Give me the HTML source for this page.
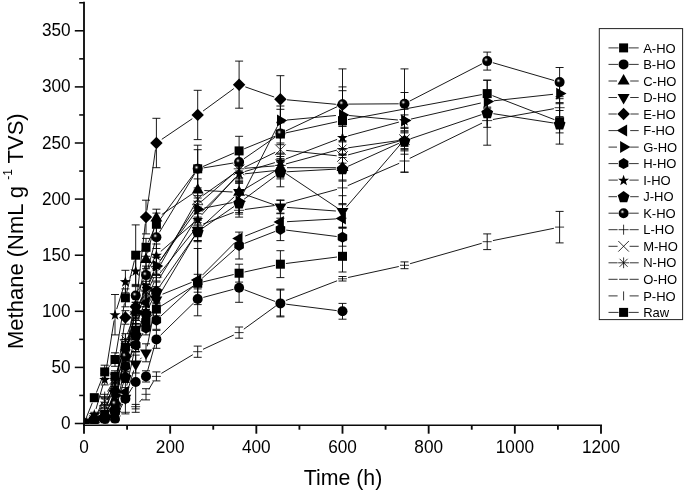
<!DOCTYPE html>
<html><head><meta charset="utf-8"><title>Methane</title>
<style>
html,body{margin:0;padding:0;background:#fff;}
body{width:685px;height:491px;overflow:hidden;}
svg{display:block;font-family:"Liberation Sans",Arial,sans-serif;}
.dl path{stroke:#000;stroke-width:0.9;fill:none;}
.eb path{stroke:#000;stroke-width:0.9;fill:none;}
.sy{fill:#000;stroke:none;}
.hs{stroke:#000;stroke-width:0.8;fill:none;}
.axv{stroke:#0a0a0a;stroke-width:1.85;fill:none;}
.axh{stroke:#0a0a0a;stroke-width:1.55;fill:none;}
.ll{stroke:#000;stroke-width:0.8;fill:none;}
.tl{font-size:17.2px;fill:#000;}
.at{font-size:21.3px;fill:#000;}
.lt{font-size:13px;fill:#000;}
</style></head><body>
<svg width="685" height="491" viewBox="0 0 685 491">
<defs><radialGradient id="sph" cx="0.38" cy="0.36" r="0.5"><stop offset="0" stop-color="#f4f4f4"/><stop offset="0.14" stop-color="#a0a0a0"/><stop offset="0.34" stop-color="#1c1c1c"/><stop offset="0.5" stop-color="#000"/><stop offset="1" stop-color="#000"/></radialGradient></defs>
<rect width="685" height="491" fill="#fff"/>
<clipPath id="cp"><rect x="84" y="0" width="600" height="423.6"/></clipPath>
<g clip-path="url(#cp)">
<g class="dl">
<path d="M86.0 418.4L92.3 402.8"/>
<path d="M96.4 392.6L102.6 377.0"/>
<path d="M108.2 367.7L111.5 363.8"/>
<path d="M115.9 354.1L124.4 303.3"/>
<path d="M126.7 292.5L134.4 260.5"/>
<path d="M140.1 251.9L141.7 250.7"/>
<path d="M148.3 242.3L154.1 229.4"/>
<path d="M159.7 219.9L194.4 173.2"/>
<path d="M202.8 166.6L234.0 153.0"/>
<path d="M244.2 148.8L275.4 136.1"/>
<path d="M285.8 132.9L337.1 121.7"/>
<path d="M347.9 119.6L481.8 94.6"/>
<path d="M492.4 95.6L554.5 119.7"/>
<path d="M117.7 413.8L122.7 404.0"/>
<path d="M128.4 393.9L132.7 386.9"/>
<path d="M147.6 370.8L154.8 344.9"/>
<path d="M160.5 335.3L193.6 303.0"/>
<path d="M203.3 297.4L233.5 289.3"/>
<path d="M244.5 289.8L275.0 301.4"/>
<path d="M286.2 304.2L336.7 310.6"/>
<path d="M108.3 411.3L111.4 406.6"/>
<path d="M116.4 394.6L123.9 360.4"/>
<path d="M126.9 347.5L134.1 317.7"/>
<path d="M137.0 304.8L144.7 266.2"/>
<path d="M147.6 253.3L154.8 224.6"/>
<path d="M161.8 214.5L192.3 193.8"/>
<path d="M204.3 190.5L232.5 192.0"/>
<path d="M244.8 189.0L274.8 171.1"/>
<path d="M287.0 167.7L335.9 167.7"/>
<path d="M118.5 408.9L121.8 403.7"/>
<path d="M127.3 391.8L133.8 370.4"/>
<path d="M140.2 359.2L141.6 357.7"/>
<path d="M147.3 346.3L155.1 306.6"/>
<path d="M159.7 294.4L194.4 236.2"/>
<path d="M202.6 226.0L234.2 196.8"/>
<path d="M245.3 194.6L274.2 204.8"/>
<path d="M287.0 207.4L335.9 211.0"/>
<path d="M107.1 410.6L112.6 397.1"/>
<path d="M115.9 384.4L124.4 324.0"/>
<path d="M130.0 312.7L131.1 311.5"/>
<path d="M136.5 300.3L145.3 223.6"/>
<path d="M146.9 210.5L155.5 149.5"/>
<path d="M161.8 139.3L192.3 118.7"/>
<path d="M203.1 111.0L233.8 88.6"/>
<path d="M245.3 86.9L274.2 97.0"/>
<path d="M287.0 99.8L335.9 104.3"/>
<path d="M117.6 410.7L122.8 398.2"/>
<path d="M126.8 385.6L134.3 351.4"/>
<path d="M137.3 338.5L144.5 309.2"/>
<path d="M162.5 294.2L191.6 282.4"/>
<path d="M202.4 275.2L234.4 243.0"/>
<path d="M245.2 236.0L274.3 224.5"/>
<path d="M287.0 221.7L335.9 218.9"/>
<path d="M107.7 409.8L112.0 401.3"/>
<path d="M116.7 389.1L123.7 362.6"/>
<path d="M126.8 349.7L134.2 317.7"/>
<path d="M138.4 305.3L143.4 294.1"/>
<path d="M148.8 282.1L153.6 271.8"/>
<path d="M160.3 260.5L193.8 214.5"/>
<path d="M204.2 208.0L232.6 202.6"/>
<path d="M242.1 195.5L277.4 126.4"/>
<path d="M287.0 120.0L335.9 115.5"/>
<path d="M349.1 115.5L397.9 120.0"/>
<path d="M410.9 119.1L480.8 103.0"/>
<path d="M493.8 100.8L553.0 94.3"/>
<path d="M109.5 415.8L110.2 415.4"/>
<path d="M116.3 406.6L124.1 371.9"/>
<path d="M127.9 361.1L133.2 350.2"/>
<path d="M138.7 340.0L143.0 333.1"/>
<path d="M150.7 324.6L151.8 323.8"/>
<path d="M160.6 316.3L193.5 286.1"/>
<path d="M202.1 278.3L234.7 249.4"/>
<path d="M244.5 243.4L275.0 231.5"/>
<path d="M286.2 230.1L336.7 236.5"/>
<path d="M88.4 419.7L90.0 418.3"/>
<path d="M96.0 409.0L103.0 384.9"/>
<path d="M105.6 373.6L114.1 320.4"/>
<path d="M116.7 309.1L123.6 287.1"/>
<path d="M129.4 277.4L131.7 275.1"/>
<path d="M148.9 268.1L153.5 260.2"/>
<path d="M160.8 251.4L193.4 223.1"/>
<path d="M201.6 215.0L235.2 177.6"/>
<path d="M244.6 171.6L274.9 162.6"/>
<path d="M285.9 158.9L337.1 139.4"/>
<path d="M348.1 135.9L398.9 122.1"/>
<path d="M109.6 414.1L110.1 413.8"/>
<path d="M116.9 404.1L123.5 382.7"/>
<path d="M126.8 370.8L134.2 340.9"/>
<path d="M138.4 329.3L143.3 319.1"/>
<path d="M148.6 307.9L153.8 296.7"/>
<path d="M159.9 286.0L194.2 236.7"/>
<path d="M202.8 228.1L234.0 206.5"/>
<path d="M244.1 199.2L275.5 175.9"/>
<path d="M286.6 171.8L336.3 169.1"/>
<path d="M348.1 166.3L398.9 143.3"/>
<path d="M410.4 138.8L481.4 114.7"/>
<path d="M493.4 113.7L553.5 123.0"/>
<path d="M108.3 412.2L111.4 408.4"/>
<path d="M116.2 398.2L124.1 361.8"/>
<path d="M126.3 350.5L134.7 301.3"/>
<path d="M138.3 290.4L143.4 280.2"/>
<path d="M147.6 269.5L154.8 242.8"/>
<path d="M159.4 232.3L194.7 173.8"/>
<path d="M203.5 167.9L233.4 163.0"/>
<path d="M243.9 158.8L275.7 136.8"/>
<path d="M285.7 131.0L337.2 106.7"/>
<path d="M348.3 104.1L398.7 103.8"/>
<path d="M409.7 101.1L482.1 63.8"/>
<path d="M492.8 62.7L554.0 80.5"/>
<path d="M96.7 414.8L102.3 401.9"/>
<path d="M107.6 391.5L112.1 383.6"/>
<path d="M118.1 373.7L122.3 366.7"/>
<path d="M126.9 356.2L134.1 330.4"/>
<path d="M137.9 319.4L143.8 305.4"/>
<path d="M148.5 294.8L153.9 282.9"/>
<path d="M160.0 273.1L194.1 230.6"/>
<path d="M203.2 224.0L233.7 212.4"/>
<path d="M244.8 209.5L274.7 205.5"/>
<path d="M286.0 203.2L336.9 189.4"/>
<path d="M347.8 185.6L399.2 163.3"/>
<path d="M409.7 158.4L482.0 123.1"/>
<path d="M492.9 119.5L553.9 108.7"/>
<path d="M97.1 415.0L101.9 406.2"/>
<path d="M107.1 395.8L112.6 383.9"/>
<path d="M116.7 373.1L123.7 350.5"/>
<path d="M127.4 339.5L133.7 322.4"/>
<path d="M138.1 311.6L143.6 299.7"/>
<path d="M148.5 289.2L153.9 277.3"/>
<path d="M159.2 267.0L194.9 204.1"/>
<path d="M202.5 195.8L234.3 173.3"/>
<path d="M244.3 167.4L275.2 152.3"/>
<path d="M286.2 150.4L336.7 155.8"/>
<path d="M348.1 154.9L398.9 141.2"/>
<path d="M97.7 415.4L101.3 410.3"/>
<path d="M107.2 400.3L112.5 389.4"/>
<path d="M116.3 378.6L124.1 345.0"/>
<path d="M127.4 333.9L133.7 316.7"/>
<path d="M138.3 306.1L143.4 296.3"/>
<path d="M148.3 285.8L154.1 271.8"/>
<path d="M159.6 261.6L194.5 209.5"/>
<path d="M202.1 200.9L234.7 172.6"/>
<path d="M244.9 168.3L274.7 165.9"/>
<path d="M286.0 163.9L336.9 150.1"/>
<path d="M348.2 147.8L398.8 140.5"/>
<path d="M98.3 417.0L100.7 414.3"/>
<path d="M107.0 404.7L112.7 391.8"/>
<path d="M116.6 380.9L123.8 356.1"/>
<path d="M127.4 345.1L133.7 328.0"/>
<path d="M138.7 317.6L143.0 310.6"/>
<path d="M148.5 300.4L153.9 288.5"/>
<path d="M159.4 278.3L194.7 220.9"/>
<path d="M201.8 211.8L235.0 178.5"/>
<path d="M244.9 173.8L274.7 170.6"/>
<path d="M285.3 173.2L337.7 208.2"/>
<path d="M346.3 207.1L400.7 144.0"/>
<path d="M119.6 416.6L120.7 415.8"/>
<path d="M139.4 402.2L142.3 398.8"/>
<path d="M148.9 389.3L153.5 381.4"/>
<path d="M161.4 373.4L192.8 354.7"/>
<path d="M203.0 349.3L233.8 335.0"/>
<path d="M243.8 329.2L275.8 306.0"/>
<path d="M285.9 300.5L337.1 280.8"/>
<path d="M348.1 277.5L398.8 266.5"/>
<path d="M410.1 263.7L481.7 243.3"/>
<path d="M492.9 240.6L553.9 228.3"/>
<path d="M99.2 417.5L99.8 417.1"/>
<path d="M106.1 409.2L113.6 381.7"/>
<path d="M116.9 371.2L123.5 352.4"/>
<path d="M128.2 342.5L132.8 335.1"/>
<path d="M140.1 327.0L141.7 325.8"/>
<path d="M149.4 318.2L153.0 313.4"/>
<path d="M161.0 306.1L193.1 286.2"/>
<path d="M203.1 281.9L233.7 274.5"/>
<path d="M244.5 272.0L275.1 265.3"/>
<path d="M285.9 263.5L337.0 257.0"/>
</g>
<g class="eb">
<path d="M94.3 394.3V401.1M90.3 394.3H98.3M90.3 401.1H98.3"/>
<path d="M104.7 365.2V378.6M100.7 365.2H108.7M100.7 378.6H108.7"/>
<path d="M115.0 352.8V366.3M111.0 352.8H119.0M111.0 366.3H119.0"/>
<path d="M125.4 288.9V306.8M121.4 288.9H129.4M121.4 306.8H129.4"/>
<path d="M135.7 224.9V285.5M131.7 224.9H139.7M131.7 285.5H139.7"/>
<path d="M146.0 238.4V256.3M142.0 238.4H150.0M142.0 256.3H150.0"/>
<path d="M156.4 213.1V235.6M152.4 213.1H160.4M152.4 235.6H160.4"/>
<path d="M197.7 145.2V192.4M193.7 145.2H201.7M193.7 192.4H201.7"/>
<path d="M239.1 136.3V165.4M235.1 136.3H243.1M235.1 165.4H243.1"/>
<path d="M280.4 106.0V162.1M276.4 106.0H284.4M276.4 162.1H284.4"/>
<path d="M342.5 86.9V154.2M338.5 86.9H346.5M338.5 154.2H346.5"/>
<path d="M487.2 80.2V107.1M483.2 80.2H491.2M483.2 107.1H491.2"/>
<path d="M559.6 110.5V132.9M555.6 110.5H563.6M555.6 132.9H563.6"/>
<path d="M135.7 351.7V412.3M131.7 351.7H139.7M131.7 412.3H139.7"/>
<path d="M146.0 370.8V382.0M142.0 370.8H150.0M142.0 382.0H150.0"/>
<path d="M156.4 330.4V348.3M152.4 330.4H160.4M152.4 348.3H160.4"/>
<path d="M197.7 282.1V315.8M193.7 282.1H201.7M193.7 315.8H201.7"/>
<path d="M239.1 273.2V302.3M235.1 273.2H243.1M235.1 302.3H243.1"/>
<path d="M280.4 290.0V316.9M276.4 290.0H284.4M276.4 316.9H284.4"/>
<path d="M342.5 303.4V319.2M338.5 303.4H346.5M338.5 319.2H346.5"/>
<path d="M104.7 414.5V419.0M100.7 414.5H108.7M100.7 419.0H108.7"/>
<path d="M115.0 396.6V405.5M111.0 396.6H119.0M111.0 405.5H119.0"/>
<path d="M125.4 347.2V360.7M121.4 347.2H129.4M121.4 360.7H129.4"/>
<path d="M135.7 302.3V320.3M131.7 302.3H139.7M131.7 320.3H139.7"/>
<path d="M146.0 250.7V268.7M142.0 250.7H150.0M142.0 268.7H150.0"/>
<path d="M156.4 209.2V227.1M152.4 209.2H160.4M152.4 227.1H160.4"/>
<path d="M197.7 178.9V201.3M193.7 178.9H201.7M193.7 201.3H201.7"/>
<path d="M239.1 181.1V203.6M235.1 181.1H243.1M235.1 203.6H243.1"/>
<path d="M280.4 161.0V174.4M276.4 161.0H284.4M276.4 174.4H284.4"/>
<path d="M342.5 154.2V181.1M338.5 154.2H346.5M338.5 181.1H346.5"/>
<path d="M115.0 411.2V417.9M111.0 411.2H119.0M111.0 417.9H119.0"/>
<path d="M125.4 382.4V413.9M121.4 382.4H129.4M121.4 413.9H129.4"/>
<path d="M135.7 355.1V373.0M131.7 355.1H139.7M131.7 373.0H139.7"/>
<path d="M146.0 343.8V361.8M142.0 343.8H150.0M142.0 361.8H150.0"/>
<path d="M156.4 291.1V309.1M152.4 291.1H160.4M152.4 309.1H160.4"/>
<path d="M197.7 219.3V241.7M193.7 219.3H201.7M193.7 241.7H201.7"/>
<path d="M239.1 181.1V203.6M235.1 181.1H243.1M235.1 203.6H243.1"/>
<path d="M280.4 200.2V213.7M276.4 200.2H284.4M276.4 213.7H284.4"/>
<path d="M342.5 195.7V227.1M338.5 195.7H346.5M338.5 227.1H346.5"/>
<path d="M104.7 414.5V419.0M100.7 414.5H108.7M100.7 419.0H108.7"/>
<path d="M115.0 386.5V395.4M111.0 386.5H119.0M111.0 395.4H119.0"/>
<path d="M125.4 310.7V324.2M121.4 310.7H129.4M121.4 324.2H129.4"/>
<path d="M135.7 297.8V315.8M131.7 297.8H139.7M131.7 315.8H139.7"/>
<path d="M146.0 200.2V233.9M142.0 200.2H150.0M142.0 233.9H150.0"/>
<path d="M156.4 118.3V167.7M152.4 118.3H160.4M152.4 167.7H160.4"/>
<path d="M197.7 90.3V139.6M193.7 90.3H201.7M193.7 139.6H201.7"/>
<path d="M239.1 61.1V108.2M235.1 61.1H243.1M235.1 108.2H243.1"/>
<path d="M280.4 75.7V122.8M276.4 75.7H284.4M276.4 122.8H284.4"/>
<path d="M342.5 68.9V140.8M338.5 68.9H346.5M338.5 140.8H346.5"/>
<path d="M115.0 414.5V419.0M111.0 414.5H119.0M111.0 419.0H119.0"/>
<path d="M125.4 387.6V396.6M121.4 387.6H129.4M121.4 396.6H129.4"/>
<path d="M135.7 338.2V351.7M131.7 338.2H139.7M131.7 351.7H139.7"/>
<path d="M146.0 296.0V309.5M142.0 296.0H150.0M142.0 309.5H150.0"/>
<path d="M156.4 290.0V303.4M152.4 290.0H160.4M152.4 303.4H160.4"/>
<path d="M197.7 248.5V288.9M193.7 248.5H201.7M193.7 288.9H201.7"/>
<path d="M280.4 213.1V231.1M276.4 213.1H284.4M276.4 231.1H284.4"/>
<path d="M342.5 209.5V227.5M338.5 209.5H346.5M338.5 227.5H346.5"/>
<path d="M104.7 413.4V417.9M100.7 413.4H108.7M100.7 417.9H108.7"/>
<path d="M115.0 391.0V399.9M111.0 391.0H119.0M111.0 399.9H119.0"/>
<path d="M125.4 349.4V362.9M121.4 349.4H129.4M121.4 362.9H129.4"/>
<path d="M135.7 302.3V320.3M131.7 302.3H139.7M131.7 320.3H139.7"/>
<path d="M146.0 281.3V294.8M142.0 281.3H150.0M142.0 294.8H150.0"/>
<path d="M156.4 256.9V274.8M152.4 256.9H160.4M152.4 274.8H160.4"/>
<path d="M197.7 198.0V220.4M193.7 198.0H201.7M193.7 220.4H201.7"/>
<path d="M239.1 190.1V212.6M235.1 190.1H243.1M235.1 212.6H243.1"/>
<path d="M280.4 109.3V131.8M276.4 109.3H284.4M276.4 131.8H284.4"/>
<path d="M342.5 103.7V126.2M338.5 103.7H346.5M338.5 126.2H346.5"/>
<path d="M404.5 68.9V172.2M400.5 68.9H408.5M400.5 172.2H408.5"/>
<path d="M487.2 94.8V108.2M483.2 94.8H491.2M483.2 108.2H491.2"/>
<path d="M559.6 84.7V102.6M555.6 84.7H563.6M555.6 102.6H563.6"/>
<path d="M115.0 410.0V414.5M111.0 410.0H119.0M111.0 414.5H119.0"/>
<path d="M125.4 360.7V371.9M121.4 360.7H129.4M121.4 371.9H129.4"/>
<path d="M135.7 338.2V351.7M131.7 338.2H139.7M131.7 351.7H139.7"/>
<path d="M146.0 321.4V334.9M142.0 321.4H150.0M142.0 334.9H150.0"/>
<path d="M156.4 311.3V329.3M152.4 311.3H160.4M152.4 329.3H160.4"/>
<path d="M197.7 240.6V304.6M193.7 240.6H201.7M193.7 304.6H201.7"/>
<path d="M239.1 232.1V259.0M235.1 232.1H243.1M235.1 259.0H243.1"/>
<path d="M280.4 218.2V240.6M276.4 218.2H284.4M276.4 240.6H284.4"/>
<path d="M342.5 228.3V246.2M338.5 228.3H346.5M338.5 246.2H346.5"/>
<path d="M94.3 412.3V416.8M90.3 412.3H98.3M90.3 416.8H98.3"/>
<path d="M104.7 373.7V384.9M100.7 373.7H108.7M100.7 384.9H108.7"/>
<path d="M115.0 294.5V334.9M111.0 294.5H119.0M111.0 334.9H119.0"/>
<path d="M125.4 270.3V292.8M121.4 270.3H129.4M121.4 292.8H129.4"/>
<path d="M135.7 257.4V284.4M131.7 257.4H139.7M131.7 284.4H139.7"/>
<path d="M146.0 261.9V284.4M142.0 261.9H150.0M142.0 284.4H150.0"/>
<path d="M156.4 244.0V266.4M152.4 244.0H160.4M152.4 266.4H160.4"/>
<path d="M197.7 210.3V228.3M193.7 210.3H201.7M193.7 228.3H201.7"/>
<path d="M239.1 164.3V182.3M235.1 164.3H243.1M235.1 182.3H243.1"/>
<path d="M280.4 154.2V167.7M276.4 154.2H284.4M276.4 167.7H284.4"/>
<path d="M342.5 126.2V148.6M338.5 126.2H346.5M338.5 148.6H346.5"/>
<path d="M404.5 109.3V131.8M400.5 109.3H408.5M400.5 131.8H408.5"/>
<path d="M115.0 406.7V413.4M111.0 406.7H119.0M111.0 413.4H119.0"/>
<path d="M125.4 371.2V382.4M121.4 371.2H129.4M121.4 382.4H129.4"/>
<path d="M135.7 328.1V341.6M131.7 328.1H139.7M131.7 341.6H139.7"/>
<path d="M146.0 306.8V320.3M142.0 306.8H150.0M142.0 320.3H150.0"/>
<path d="M156.4 282.1V300.1M152.4 282.1H160.4M152.4 300.1H160.4"/>
<path d="M197.7 222.7V240.6M193.7 222.7H201.7M193.7 240.6H201.7"/>
<path d="M239.1 191.7V214.1M235.1 191.7H243.1M235.1 214.1H243.1"/>
<path d="M280.4 165.4V178.9M276.4 165.4H284.4M276.4 178.9H284.4"/>
<path d="M342.5 157.6V180.0M338.5 157.6H346.5M338.5 180.0H346.5"/>
<path d="M404.5 127.3V154.2M400.5 127.3H408.5M400.5 154.2H408.5"/>
<path d="M487.2 80.2V145.2M483.2 80.2H491.2M483.2 145.2H491.2"/>
<path d="M559.6 103.7V144.1M555.6 103.7H563.6M555.6 144.1H563.6"/>
<path d="M104.7 414.5V419.0M100.7 414.5H108.7M100.7 419.0H108.7"/>
<path d="M115.0 399.4V408.4M111.0 399.4H119.0M111.0 408.4H119.0"/>
<path d="M125.4 349.4V362.9M121.4 349.4H129.4M121.4 362.9H129.4"/>
<path d="M135.7 286.6V304.6M131.7 286.6H139.7M131.7 304.6H139.7"/>
<path d="M146.0 266.1V284.0M142.0 266.1H150.0M142.0 284.0H150.0"/>
<path d="M156.4 226.0V248.5M152.4 226.0H160.4M152.4 248.5H160.4"/>
<path d="M197.7 149.7V187.9M193.7 149.7H201.7M193.7 187.9H201.7"/>
<path d="M239.1 153.1V171.0M235.1 153.1H243.1M235.1 171.0H243.1"/>
<path d="M280.4 122.2V144.7M276.4 122.2H284.4M276.4 144.7H284.4"/>
<path d="M342.5 90.7V117.6M338.5 90.7H346.5M338.5 117.6H346.5"/>
<path d="M404.5 92.5V114.9M400.5 92.5H408.5M400.5 114.9H408.5"/>
<path d="M487.2 52.1V70.1M483.2 52.1H491.2M483.2 70.1H491.2"/>
<path d="M559.6 67.5V96.7M555.6 67.5H563.6M555.6 96.7H563.6"/>
<path d="M104.7 394.3V398.8M100.7 394.3H108.7M100.7 398.8H108.7"/>
<path d="M115.0 375.3V382.0M111.0 375.3H119.0M111.0 382.0H119.0"/>
<path d="M125.4 356.2V367.4M121.4 356.2H129.4M121.4 367.4H129.4"/>
<path d="M135.7 318.0V331.5M131.7 318.0H139.7M131.7 331.5H139.7"/>
<path d="M146.0 293.3V306.8M142.0 293.3H150.0M142.0 306.8H150.0"/>
<path d="M156.4 268.7V286.6M152.4 268.7H160.4M152.4 286.6H160.4"/>
<path d="M197.7 217.1V235.0M193.7 217.1H201.7M193.7 235.0H201.7"/>
<path d="M239.1 203.6V217.1M235.1 203.6H243.1M235.1 217.1H243.1"/>
<path d="M280.4 200.2V209.2M276.4 200.2H284.4M276.4 209.2H284.4"/>
<path d="M342.5 172.2V203.6M338.5 172.2H346.5M338.5 203.6H346.5"/>
<path d="M404.5 149.7V172.2M400.5 149.7H408.5M400.5 172.2H408.5"/>
<path d="M487.2 113.8V127.3M483.2 113.8H491.2M483.2 127.3H491.2"/>
<path d="M559.6 98.7V116.6M555.6 98.7H563.6M555.6 116.6H563.6"/>
<path d="M104.7 397.7V404.4M100.7 397.7H108.7M100.7 404.4H108.7"/>
<path d="M115.0 374.1V383.1M111.0 374.1H119.0M111.0 383.1H119.0"/>
<path d="M125.4 339.4V350.6M121.4 339.4H129.4M121.4 350.6H129.4"/>
<path d="M135.7 310.2V323.6M131.7 310.2H139.7M131.7 323.6H139.7"/>
<path d="M146.0 287.7V301.2M142.0 287.7H150.0M142.0 301.2H150.0"/>
<path d="M156.4 263.1V281.0M152.4 263.1H160.4M152.4 281.0H160.4"/>
<path d="M197.7 190.1V208.1M193.7 190.1H201.7M193.7 208.1H201.7"/>
<path d="M239.1 161.0V178.9M235.1 161.0H243.1M235.1 178.9H243.1"/>
<path d="M280.4 143.0V156.5M276.4 143.0H284.4M276.4 156.5H284.4"/>
<path d="M342.5 149.7V163.2M338.5 149.7H346.5M338.5 163.2H346.5"/>
<path d="M404.5 128.4V150.9M400.5 128.4H408.5M400.5 150.9H408.5"/>
<path d="M104.7 402.2V408.9M100.7 402.2H108.7M100.7 408.9H108.7"/>
<path d="M115.0 379.7V388.7M111.0 379.7H119.0M111.0 388.7H119.0"/>
<path d="M125.4 333.7V345.0M121.4 333.7H129.4M121.4 345.0H129.4"/>
<path d="M135.7 304.6V318.0M131.7 304.6H139.7M131.7 318.0H139.7"/>
<path d="M146.0 284.4V297.8M142.0 284.4H150.0M142.0 297.8H150.0"/>
<path d="M156.4 257.4V275.4M152.4 257.4H160.4M152.4 275.4H160.4"/>
<path d="M197.7 195.7V213.7M193.7 195.7H201.7M193.7 213.7H201.7"/>
<path d="M239.1 159.8V177.8M235.1 159.8H243.1M235.1 177.8H243.1"/>
<path d="M280.4 158.7V172.2M276.4 158.7H284.4M276.4 172.2H284.4"/>
<path d="M342.5 141.9V155.3M338.5 141.9H346.5M338.5 155.3H346.5"/>
<path d="M404.5 130.7V148.6M400.5 130.7H408.5M400.5 148.6H408.5"/>
<path d="M104.7 407.8V412.3M100.7 407.8H108.7M100.7 412.3H108.7"/>
<path d="M115.0 383.1V389.8M111.0 383.1H119.0M111.0 389.8H119.0"/>
<path d="M125.4 345.0V356.2M121.4 345.0H129.4M121.4 356.2H129.4"/>
<path d="M135.7 315.8V329.3M131.7 315.8H139.7M131.7 329.3H139.7"/>
<path d="M146.0 299.0V312.4M142.0 299.0H150.0M142.0 312.4H150.0"/>
<path d="M156.4 274.3V292.2M152.4 274.3H160.4M152.4 292.2H160.4"/>
<path d="M197.7 207.0V224.9M193.7 207.0H201.7M193.7 224.9H201.7"/>
<path d="M239.1 165.4V183.4M235.1 165.4H243.1M235.1 183.4H243.1"/>
<path d="M280.4 153.1V186.8M276.4 153.1H284.4M276.4 186.8H284.4"/>
<path d="M342.5 204.7V218.2M338.5 204.7H346.5M338.5 218.2H346.5"/>
<path d="M404.5 132.9V146.4M400.5 132.9H408.5M400.5 146.4H408.5"/>
<path d="M135.7 404.4V408.9M131.7 404.4H139.7M131.7 408.9H139.7"/>
<path d="M146.0 388.7V399.9M142.0 388.7H150.0M142.0 399.9H150.0"/>
<path d="M156.4 371.9V380.9M152.4 371.9H160.4M152.4 380.9H160.4"/>
<path d="M197.7 346.1V357.3M193.7 346.1H201.7M193.7 357.3H201.7"/>
<path d="M239.1 327.0V338.2M235.1 327.0H243.1M235.1 338.2H243.1"/>
<path d="M280.4 289.1V316.0M276.4 289.1H284.4M276.4 316.0H284.4"/>
<path d="M342.5 276.5V281.0M338.5 276.5H346.5M338.5 281.0H346.5"/>
<path d="M404.5 261.9V268.7M400.5 261.9H408.5M400.5 268.7H408.5"/>
<path d="M487.2 233.9V249.6M483.2 233.9H491.2M483.2 249.6H491.2"/>
<path d="M559.6 211.4V242.9M555.6 211.4H563.6M555.6 242.9H563.6"/>
<path d="M104.7 411.2V417.9M100.7 411.2H108.7M100.7 417.9H108.7"/>
<path d="M115.0 370.8V382.0M111.0 370.8H119.0M111.0 382.0H119.0"/>
<path d="M125.4 341.6V352.8M121.4 341.6H129.4M121.4 352.8H129.4"/>
<path d="M135.7 323.6V337.1M131.7 323.6H139.7M131.7 337.1H139.7"/>
<path d="M146.0 315.8V329.3M142.0 315.8H150.0M142.0 329.3H150.0"/>
<path d="M156.4 302.3V315.8M152.4 302.3H160.4M152.4 315.8H160.4"/>
<path d="M197.7 274.3V292.2M193.7 274.3H201.7M193.7 292.2H201.7"/>
<path d="M239.1 264.2V282.1M235.1 264.2H243.1M235.1 282.1H243.1"/>
<path d="M280.4 250.7V277.6M276.4 250.7H284.4M276.4 277.6H284.4"/>
<path d="M342.5 240.6V272.0M338.5 240.6H346.5M338.5 272.0H346.5"/>
</g>
<g class="sy">
<rect x="79.5" y="419.0" width="9.0" height="9.0"/>
<rect x="89.8" y="393.2" width="9.0" height="9.0"/>
<rect x="100.2" y="367.4" width="9.0" height="9.0"/>
<rect x="110.5" y="355.0" width="9.0" height="9.0"/>
<rect x="120.9" y="293.3" width="9.0" height="9.0"/>
<rect x="131.2" y="250.7" width="9.0" height="9.0"/>
<rect x="141.5" y="242.8" width="9.0" height="9.0"/>
<rect x="151.9" y="219.8" width="9.0" height="9.0"/>
<rect x="193.2" y="164.3" width="9.0" height="9.0"/>
<rect x="234.6" y="146.4" width="9.0" height="9.0"/>
<rect x="275.9" y="129.5" width="9.0" height="9.0"/>
<rect x="338.0" y="116.1" width="9.0" height="9.0"/>
<rect x="482.7" y="89.1" width="9.0" height="9.0"/>
<rect x="555.1" y="117.2" width="9.0" height="9.0"/>
<circle cx="84.0" cy="423.5" r="5.0"/>
<circle cx="94.3" cy="420.1" r="5.0"/>
<circle cx="104.7" cy="419.0" r="5.0"/>
<circle cx="115.0" cy="419.0" r="5.0"/>
<circle cx="125.4" cy="398.8" r="5.0"/>
<circle cx="135.7" cy="382.0" r="5.0"/>
<circle cx="146.0" cy="376.4" r="5.0"/>
<circle cx="156.4" cy="339.4" r="5.0"/>
<circle cx="197.7" cy="299.0" r="5.0"/>
<circle cx="239.1" cy="287.7" r="5.0"/>
<circle cx="280.4" cy="303.4" r="5.0"/>
<circle cx="342.5" cy="311.3" r="5.0"/>
<polygon points="84.0,416.6 90.0,426.9 78.0,426.9"/>
<polygon points="94.3,413.2 100.3,423.6 88.4,423.6"/>
<polygon points="104.7,409.9 110.7,420.2 98.7,420.2"/>
<polygon points="115.0,394.2 121.0,404.5 109.0,404.5"/>
<polygon points="125.4,347.0 131.3,357.4 119.4,357.4"/>
<polygon points="135.7,304.4 141.7,314.7 129.7,314.7"/>
<polygon points="146.0,252.8 152.0,263.1 140.1,263.1"/>
<polygon points="156.4,211.3 162.3,221.6 150.4,221.6"/>
<polygon points="197.7,183.2 203.7,193.6 191.8,193.6"/>
<polygon points="239.1,185.5 245.1,195.8 233.1,195.8"/>
<polygon points="280.4,160.8 286.4,171.1 274.5,171.1"/>
<polygon points="342.5,160.8 348.5,171.1 336.5,171.1"/>
<polygon points="84.0,430.4 90.0,420.1 78.0,420.1"/>
<polygon points="94.3,427.0 100.3,416.7 88.4,416.7"/>
<polygon points="104.7,425.9 110.7,415.6 98.7,415.6"/>
<polygon points="115.0,421.4 121.0,411.1 109.0,411.1"/>
<polygon points="125.4,405.0 131.3,394.7 119.4,394.7"/>
<polygon points="135.7,370.9 141.7,360.6 129.7,360.6"/>
<polygon points="146.0,359.7 152.0,349.4 140.1,349.4"/>
<polygon points="156.4,307.0 162.3,296.6 150.4,296.6"/>
<polygon points="197.7,237.4 203.7,227.1 191.8,227.1"/>
<polygon points="239.1,199.3 245.1,188.9 233.1,188.9"/>
<polygon points="280.4,213.9 286.4,203.5 274.5,203.5"/>
<polygon points="342.5,218.3 348.5,208.0 336.5,208.0"/>
<polygon points="84.0,417.3 90.2,423.5 84.0,429.7 77.8,423.5"/>
<polygon points="94.3,412.8 100.5,419.0 94.3,425.2 88.1,419.0"/>
<polygon points="104.7,410.6 110.9,416.8 104.7,423.0 98.5,416.8"/>
<polygon points="115.0,384.8 121.2,391.0 115.0,397.2 108.8,391.0"/>
<polygon points="125.4,311.3 131.6,317.5 125.4,323.7 119.2,317.5"/>
<polygon points="135.7,300.6 141.9,306.8 135.7,313.0 129.5,306.8"/>
<polygon points="146.0,210.9 152.2,217.1 146.0,223.3 139.8,217.1"/>
<polygon points="156.4,136.8 162.6,143.0 156.4,149.2 150.2,143.0"/>
<polygon points="197.7,108.7 203.9,114.9 197.7,121.1 191.5,114.9"/>
<polygon points="239.1,78.5 245.3,84.7 239.1,90.9 232.9,84.7"/>
<polygon points="280.4,93.0 286.6,99.2 280.4,105.4 274.2,99.2"/>
<polygon points="342.5,98.7 348.7,104.9 342.5,111.1 336.3,104.9"/>
<polygon points="77.1,423.5 87.5,417.5 87.5,429.5"/>
<polygon points="87.4,421.3 97.8,415.3 97.8,427.2"/>
<polygon points="97.8,419.0 108.1,413.0 108.1,425.0"/>
<polygon points="108.1,416.8 118.5,410.8 118.5,422.7"/>
<polygon points="118.5,392.1 128.8,386.1 128.8,398.1"/>
<polygon points="128.8,345.0 139.1,339.0 139.1,350.9"/>
<polygon points="139.1,302.8 149.5,296.8 149.5,308.7"/>
<polygon points="149.5,296.7 159.8,290.7 159.8,302.7"/>
<polygon points="190.8,279.9 201.2,273.9 201.2,285.9"/>
<polygon points="232.2,238.4 242.5,232.4 242.5,244.3"/>
<polygon points="273.5,222.1 283.9,216.1 283.9,228.1"/>
<polygon points="335.6,218.5 345.9,212.5 345.9,224.5"/>
<polygon points="90.9,423.5 80.5,417.5 80.5,429.5"/>
<polygon points="101.2,419.0 90.9,413.0 90.9,425.0"/>
<polygon points="111.6,415.6 101.2,409.7 101.2,421.6"/>
<polygon points="121.9,395.4 111.6,389.5 111.6,401.4"/>
<polygon points="132.3,356.2 121.9,350.2 121.9,362.2"/>
<polygon points="142.6,311.3 132.2,305.3 132.2,317.3"/>
<polygon points="152.9,288.1 142.6,282.1 142.6,294.0"/>
<polygon points="163.3,265.9 152.9,259.9 152.9,271.8"/>
<polygon points="204.6,209.2 194.3,203.2 194.3,215.2"/>
<polygon points="246.0,201.3 235.6,195.4 235.6,207.3"/>
<polygon points="287.3,120.6 277.0,114.6 277.0,126.5"/>
<polygon points="349.4,114.9 339.0,109.0 339.0,120.9"/>
<polygon points="411.4,120.6 401.1,114.6 401.1,126.5"/>
<polygon points="494.1,101.5 483.8,95.5 483.8,107.5"/>
<polygon points="566.5,93.6 556.2,87.7 556.2,99.6"/>
<polygon points="84.0,418.0 88.8,420.8 88.8,426.2 84.0,429.0 79.2,426.2 79.2,420.8"/>
<polygon points="94.3,414.6 99.1,417.4 99.1,422.9 94.3,425.6 89.6,422.9 89.6,417.4"/>
<polygon points="104.7,413.5 109.4,416.3 109.4,421.8 104.7,424.5 99.9,421.8 99.9,416.3"/>
<polygon points="115.0,406.8 119.8,409.5 119.8,415.0 115.0,417.8 110.3,415.0 110.3,409.5"/>
<polygon points="125.4,360.8 130.1,363.5 130.1,369.0 125.4,371.8 120.6,369.0 120.6,363.5"/>
<polygon points="135.7,339.5 140.5,342.2 140.5,347.7 135.7,350.5 130.9,347.7 130.9,342.2"/>
<polygon points="146.0,322.6 150.8,325.4 150.8,330.9 146.0,333.6 141.3,330.9 141.3,325.4"/>
<polygon points="156.4,314.8 161.1,317.5 161.1,323.0 156.4,325.8 151.6,323.0 151.6,317.5"/>
<polygon points="197.7,276.6 202.5,279.4 202.5,284.9 197.7,287.6 193.0,284.9 193.0,279.4"/>
<polygon points="239.1,240.1 243.9,242.8 243.9,248.3 239.1,251.1 234.3,248.3 234.3,242.8"/>
<polygon points="280.4,223.9 285.2,226.6 285.2,232.1 280.4,234.9 275.7,232.1 275.7,226.6"/>
<polygon points="342.5,231.7 347.2,234.5 347.2,240.0 342.5,242.7 337.7,240.0 337.7,234.5"/>
<polygon points="84.0,418.1 85.4,422.0 89.5,422.1 86.2,424.6 87.4,428.6 84.0,426.2 80.6,428.6 81.8,424.6 78.5,422.1 82.6,422.0"/>
<polygon points="94.3,409.1 95.7,413.0 99.9,413.1 96.5,415.6 97.7,419.6 94.3,417.2 90.9,419.6 92.1,415.6 88.8,413.1 93.0,413.0"/>
<polygon points="104.7,373.9 106.0,377.8 110.2,377.9 106.9,380.4 108.1,384.4 104.7,382.0 101.3,384.4 102.5,380.4 99.2,377.9 103.3,377.8"/>
<polygon points="115.0,309.3 116.4,313.2 120.5,313.3 117.2,315.8 118.4,319.8 115.0,317.4 111.6,319.8 112.8,315.8 109.5,313.3 113.7,313.2"/>
<polygon points="125.4,276.2 126.7,280.1 130.9,280.2 127.6,282.7 128.8,286.7 125.4,284.3 121.9,286.7 123.2,282.7 119.8,280.2 124.0,280.1"/>
<polygon points="135.7,265.5 137.1,269.4 141.2,269.5 137.9,272.0 139.1,276.0 135.7,273.6 132.3,276.0 133.5,272.0 130.2,269.5 134.3,269.4"/>
<polygon points="146.0,267.8 147.4,271.7 151.6,271.8 148.2,274.3 149.4,278.2 146.0,275.9 142.6,278.2 143.8,274.3 140.5,271.8 144.7,271.7"/>
<polygon points="156.4,249.8 157.7,253.7 161.9,253.8 158.6,256.3 159.8,260.3 156.4,257.9 153.0,260.3 154.2,256.3 150.9,253.8 155.0,253.7"/>
<polygon points="197.7,213.9 199.1,217.8 203.2,217.9 199.9,220.4 201.1,224.4 197.7,222.0 194.3,224.4 195.5,220.4 192.2,217.9 196.4,217.8"/>
<polygon points="239.1,167.9 240.5,171.8 244.6,171.9 241.3,174.4 242.5,178.4 239.1,176.0 235.7,178.4 236.9,174.4 233.6,171.9 237.7,171.8"/>
<polygon points="280.4,155.6 281.8,159.5 286.0,159.6 282.7,162.1 283.9,166.0 280.4,163.7 277.0,166.0 278.2,162.1 274.9,159.6 279.1,159.5"/>
<polygon points="342.5,132.0 343.8,135.9 348.0,136.0 344.7,138.5 345.9,142.5 342.5,140.1 339.1,142.5 340.3,138.5 337.0,136.0 341.1,135.9"/>
<polygon points="404.5,115.2 405.9,119.1 410.0,119.2 406.7,121.7 407.9,125.7 404.5,123.3 401.1,125.7 402.3,121.7 399.0,119.2 403.2,119.1"/>
<polygon points="84.0,417.8 89.9,422.1 87.6,429.0 80.4,429.0 78.1,422.1"/>
<polygon points="94.3,414.4 100.2,418.7 98.0,425.6 90.7,425.6 88.4,418.7"/>
<polygon points="104.7,412.2 110.6,416.5 108.3,423.4 101.0,423.4 98.8,416.5"/>
<polygon points="115.0,404.3 120.9,408.6 118.7,415.6 111.4,415.6 109.1,408.6"/>
<polygon points="125.4,371.1 131.3,375.4 129.0,382.3 121.7,382.3 119.5,375.4"/>
<polygon points="135.7,329.2 141.6,333.4 139.3,340.4 132.1,340.4 129.8,333.4"/>
<polygon points="146.0,307.8 151.9,312.1 149.7,319.1 142.4,319.1 140.1,312.1"/>
<polygon points="156.4,285.4 162.3,289.7 160.0,296.6 152.7,296.6 150.5,289.7"/>
<polygon points="197.7,225.9 203.6,230.2 201.4,237.2 194.1,237.2 191.8,230.2"/>
<polygon points="239.1,197.2 245.0,201.5 242.7,208.4 235.4,208.4 233.2,201.5"/>
<polygon points="280.4,166.5 286.3,170.8 284.1,177.7 276.8,177.7 274.5,170.8"/>
<polygon points="342.5,163.1 348.4,167.4 346.1,174.3 338.8,174.3 336.6,167.4"/>
<polygon points="404.5,135.1 410.4,139.3 408.2,146.3 400.9,146.3 398.6,139.3"/>
<polygon points="487.2,107.0 493.1,111.3 490.9,118.2 483.6,118.2 481.3,111.3"/>
<polygon points="559.6,118.2 565.5,122.5 563.2,129.4 556.0,129.4 553.7,122.5"/>
<circle cx="84.0" cy="423.5" r="5.0" fill="url(#sph)"/>
<circle cx="94.3" cy="420.1" r="5.0" fill="url(#sph)"/>
<circle cx="104.7" cy="416.8" r="5.0" fill="url(#sph)"/>
<circle cx="115.0" cy="403.9" r="5.0" fill="url(#sph)"/>
<circle cx="125.4" cy="356.2" r="5.0" fill="url(#sph)"/>
<circle cx="135.7" cy="295.6" r="5.0" fill="url(#sph)"/>
<circle cx="146.0" cy="275.1" r="5.0" fill="url(#sph)"/>
<circle cx="156.4" cy="237.2" r="5.0" fill="url(#sph)"/>
<circle cx="197.7" cy="168.8" r="5.0" fill="url(#sph)"/>
<circle cx="239.1" cy="162.1" r="5.0" fill="url(#sph)"/>
<circle cx="280.4" cy="133.5" r="5.0" fill="url(#sph)"/>
<circle cx="342.5" cy="104.2" r="5.0" fill="url(#sph)"/>
<circle cx="404.5" cy="103.7" r="5.0" fill="url(#sph)"/>
<circle cx="487.2" cy="61.1" r="5.0" fill="url(#sph)"/>
<circle cx="559.6" cy="82.1" r="5.0" fill="url(#sph)"/>
<path d="M79.0 423.5H89.0M84.0 418.5V428.5" class="hs"/>
<path d="M89.3 420.1H99.3M94.3 415.1V425.1" class="hs"/>
<path d="M99.7 396.6H109.7M104.7 391.6V401.6" class="hs"/>
<path d="M110.0 378.6H120.0M115.0 373.6V383.6" class="hs"/>
<path d="M120.4 361.8H130.4M125.4 356.8V366.8" class="hs"/>
<path d="M130.7 324.8H140.7M135.7 319.8V329.8" class="hs"/>
<path d="M141.0 300.1H151.0M146.0 295.1V305.1" class="hs"/>
<path d="M151.4 277.6H161.4M156.4 272.6V282.6" class="hs"/>
<path d="M192.7 226.0H202.7M197.7 221.0V231.0" class="hs"/>
<path d="M234.1 210.3H244.1M239.1 205.3V215.3" class="hs"/>
<path d="M275.4 204.7H285.4M280.4 199.7V209.7" class="hs"/>
<path d="M337.5 187.9H347.5M342.5 182.9V192.9" class="hs"/>
<path d="M399.5 161.0H409.5M404.5 156.0V166.0" class="hs"/>
<path d="M482.2 120.6H492.2M487.2 115.6V125.6" class="hs"/>
<path d="M554.6 107.7H564.6M559.6 102.7V112.7" class="hs"/>
<path d="M78.7 418.2L89.3 428.8M78.7 428.8L89.3 418.2" class="hs"/>
<path d="M89.0 414.8L99.6 425.4M89.0 425.4L99.6 414.8" class="hs"/>
<path d="M99.4 395.8L110.0 406.4M99.4 406.4L110.0 395.8" class="hs"/>
<path d="M109.7 373.3L120.3 383.9M109.7 383.9L120.3 373.3" class="hs"/>
<path d="M120.1 339.7L130.7 350.3M120.1 350.3L130.7 339.7" class="hs"/>
<path d="M130.4 311.6L141.0 322.2M130.4 322.2L141.0 311.6" class="hs"/>
<path d="M140.7 289.2L151.3 299.8M140.7 299.8L151.3 289.2" class="hs"/>
<path d="M151.1 266.7L161.7 277.3M151.1 277.3L161.7 266.7" class="hs"/>
<path d="M192.4 193.8L203.0 204.4M192.4 204.4L203.0 193.8" class="hs"/>
<path d="M233.8 164.6L244.4 175.2M233.8 175.2L244.4 164.6" class="hs"/>
<path d="M275.1 144.4L285.7 155.0M275.1 155.0L285.7 144.4" class="hs"/>
<path d="M337.2 151.2L347.8 161.8M337.2 161.8L347.8 151.2" class="hs"/>
<path d="M399.2 134.3L409.8 144.9M399.2 144.9L409.8 134.3" class="hs"/>
<path d="M80.0 419.5L88.0 427.5M80.0 427.5L88.0 419.5M78.6 423.5H89.4M84.0 418.1V428.9" class="hs"/>
<path d="M90.3 416.1L98.3 424.1M90.3 424.1L98.3 416.1M88.9 420.1H99.7M94.3 414.7V425.5" class="hs"/>
<path d="M100.7 401.5L108.7 409.5M100.7 409.5L108.7 401.5M99.3 405.5H110.1M104.7 400.1V410.9" class="hs"/>
<path d="M111.0 380.2L119.0 388.2M111.0 388.2L119.0 380.2M109.6 384.2H120.4M115.0 378.8V389.6" class="hs"/>
<path d="M121.4 335.4L129.4 343.4M121.4 343.4L129.4 335.4M120.0 339.4H130.8M125.4 334.0V344.8" class="hs"/>
<path d="M131.7 307.3L139.7 315.3M131.7 315.3L139.7 307.3M130.3 311.3H141.1M135.7 305.9V316.7" class="hs"/>
<path d="M142.0 287.1L150.0 295.1M142.0 295.1L150.0 287.1M140.6 291.1H151.4M146.0 285.7V296.5" class="hs"/>
<path d="M152.4 262.4L160.4 270.4M152.4 270.4L160.4 262.4M151.0 266.4H161.8M156.4 261.0V271.8" class="hs"/>
<path d="M193.7 200.7L201.7 208.7M193.7 208.7L201.7 200.7M192.3 204.7H203.1M197.7 199.3V210.1" class="hs"/>
<path d="M235.1 164.8L243.1 172.8M235.1 172.8L243.1 164.8M233.7 168.8H244.5M239.1 163.4V174.2" class="hs"/>
<path d="M276.4 161.4L284.4 169.4M276.4 169.4L284.4 161.4M275.0 165.4H285.8M280.4 160.0V170.8" class="hs"/>
<path d="M338.5 144.6L346.5 152.6M338.5 152.6L346.5 144.6M337.1 148.6H347.9M342.5 143.2V154.0" class="hs"/>
<path d="M400.5 135.6L408.5 143.6M400.5 143.6L408.5 135.6M399.1 139.6H409.9M404.5 134.2V145.0" class="hs"/>
<path d="M84.0 419.0V428.0" class="hs"/>
<path d="M94.3 416.8V425.8" class="hs"/>
<path d="M104.7 405.5V414.5" class="hs"/>
<path d="M115.0 382.0V391.0" class="hs"/>
<path d="M125.4 346.1V355.1" class="hs"/>
<path d="M135.7 318.0V327.0" class="hs"/>
<path d="M146.0 301.2V310.2" class="hs"/>
<path d="M156.4 278.8V287.8" class="hs"/>
<path d="M197.7 211.4V220.4" class="hs"/>
<path d="M239.1 169.9V178.9" class="hs"/>
<path d="M280.4 165.4V174.4" class="hs"/>
<path d="M342.5 206.9V215.9" class="hs"/>
<path d="M404.5 135.1V144.1" class="hs"/>
<path d="M79.5 423.5H88.5" class="hs"/>
<path d="M89.8 422.4H98.8" class="hs"/>
<path d="M100.2 421.3H109.2" class="hs"/>
<path d="M110.5 420.1H119.5" class="hs"/>
<path d="M120.9 412.3H129.9" class="hs"/>
<path d="M131.2 406.7H140.2" class="hs"/>
<path d="M141.5 394.3H150.5" class="hs"/>
<path d="M151.9 376.4H160.9" class="hs"/>
<path d="M193.2 351.7H202.2" class="hs"/>
<path d="M234.6 332.6H243.6" class="hs"/>
<path d="M275.9 302.5H284.9" class="hs"/>
<path d="M338.0 278.8H347.0" class="hs"/>
<path d="M400.0 265.3H409.0" class="hs"/>
<path d="M482.7 241.7H491.7" class="hs"/>
<path d="M555.1 227.1H564.1" class="hs"/>
<rect x="79.5" y="419.0" width="9.0" height="9.0"/>
<rect x="89.8" y="415.6" width="9.0" height="9.0"/>
<rect x="100.2" y="410.0" width="9.0" height="9.0"/>
<rect x="110.5" y="371.9" width="9.0" height="9.0"/>
<rect x="120.9" y="342.7" width="9.0" height="9.0"/>
<rect x="131.2" y="325.9" width="9.0" height="9.0"/>
<rect x="141.5" y="318.0" width="9.0" height="9.0"/>
<rect x="151.9" y="304.6" width="9.0" height="9.0"/>
<rect x="193.2" y="278.8" width="9.0" height="9.0"/>
<rect x="234.6" y="268.7" width="9.0" height="9.0"/>
<rect x="275.9" y="259.7" width="9.0" height="9.0"/>
<rect x="338.0" y="251.8" width="9.0" height="9.0"/>
</g>
</g>
<path class="axv" d="M84 1.8V433.7"/>
<path class="axh" d="M83 425.3H602"/>
<path class="axv" d="M127.08 425.3V429.7"/>
<path class="axv" d="M170.17 425.3V433.7"/>
<path class="axv" d="M213.25 425.3V429.7"/>
<path class="axv" d="M256.33 425.3V433.7"/>
<path class="axv" d="M299.41 425.3V429.7"/>
<path class="axv" d="M342.50 425.3V433.7"/>
<path class="axv" d="M385.58 425.3V429.7"/>
<path class="axv" d="M428.66 425.3V433.7"/>
<path class="axv" d="M471.75 425.3V429.7"/>
<path class="axv" d="M514.83 425.3V433.7"/>
<path class="axv" d="M557.91 425.3V429.7"/>
<path class="axv" d="M601.00 425.3V433.7"/>
<path class="axh" d="M84.0 423.50H74.8"/>
<path class="axh" d="M84.0 395.45H79.2"/>
<path class="axh" d="M84.0 367.40H74.8"/>
<path class="axh" d="M84.0 339.35H79.2"/>
<path class="axh" d="M84.0 311.30H74.8"/>
<path class="axh" d="M84.0 283.25H79.2"/>
<path class="axh" d="M84.0 255.20H74.8"/>
<path class="axh" d="M84.0 227.15H79.2"/>
<path class="axh" d="M84.0 199.10H74.8"/>
<path class="axh" d="M84.0 171.05H79.2"/>
<path class="axh" d="M84.0 143.00H74.8"/>
<path class="axh" d="M84.0 114.95H79.2"/>
<path class="axh" d="M84.0 86.90H74.8"/>
<path class="axh" d="M84.0 58.85H79.2"/>
<path class="axh" d="M84.0 30.80H74.8"/>
<path class="axh" d="M84.0 2.75H79.2"/>
<text class="tl" transform="translate(84.0 452.5) scale(1 1.07)" text-anchor="middle">0</text>
<text class="tl" transform="translate(170.2 452.5) scale(1 1.07)" text-anchor="middle">200</text>
<text class="tl" transform="translate(256.3 452.5) scale(1 1.07)" text-anchor="middle">400</text>
<text class="tl" transform="translate(342.5 452.5) scale(1 1.07)" text-anchor="middle">600</text>
<text class="tl" transform="translate(428.7 452.5) scale(1 1.07)" text-anchor="middle">800</text>
<text class="tl" transform="translate(514.9 452.5) scale(1 1.07)" text-anchor="middle">1000</text>
<text class="tl" transform="translate(601.0 452.5) scale(1 1.07)" text-anchor="middle">1200</text>
<text class="tl" transform="translate(70.6 429.0) scale(1 1.07)" text-anchor="end">0</text>
<text class="tl" transform="translate(70.6 372.9) scale(1 1.07)" text-anchor="end">50</text>
<text class="tl" transform="translate(70.6 316.8) scale(1 1.07)" text-anchor="end">100</text>
<text class="tl" transform="translate(70.6 260.7) scale(1 1.07)" text-anchor="end">150</text>
<text class="tl" transform="translate(70.6 204.6) scale(1 1.07)" text-anchor="end">200</text>
<text class="tl" transform="translate(70.6 148.5) scale(1 1.07)" text-anchor="end">250</text>
<text class="tl" transform="translate(70.6 92.4) scale(1 1.07)" text-anchor="end">300</text>
<text class="tl" transform="translate(70.6 36.3) scale(1 1.07)" text-anchor="end">350</text>
<text class="at" x="343" y="484.8" text-anchor="middle">Time (h)</text>
<text class="at" style="font-size:22px" transform="translate(23.2 349) rotate(-90)">Methane (NmL g <tspan dy="-11.5" font-size="12">-1</tspan><tspan dy="11.5"> TVS)</tspan></text>
<rect x="599.3" y="28.6" width="83.3" height="291" fill="#fff" stroke="#222" stroke-width="1"/>
<path class="ll" d="M608.5 47.9H618.6M628.6 47.9H638.7"/>
<g class="sy"><rect x="619.1" y="43.4" width="9.0" height="9.0"/></g>
<text class="lt" x="643.2" y="52.5">A-HO</text>
<path class="ll" d="M608.5 64.4H618.1M629.1 64.4H638.7"/>
<g class="sy"><circle cx="623.6" cy="64.4" r="5.0"/></g>
<text class="lt" x="643.2" y="69.0">B-HO</text>
<path class="ll" d="M608.5 81.0H617.0M630.2 81.0H638.7"/>
<g class="sy"><polygon points="623.6,74.1 629.6,84.4 617.6,84.4"/></g>
<text class="lt" x="643.2" y="85.6">C-HO</text>
<path class="ll" d="M608.5 97.5H617.0M630.2 97.5H638.7"/>
<g class="sy"><polygon points="623.6,104.4 629.6,94.0 617.6,94.0"/></g>
<text class="lt" x="643.2" y="102.1">D-HO</text>
<path class="ll" d="M608.5 114.0H616.8M630.4 114.0H638.7"/>
<g class="sy"><polygon points="623.6,107.8 629.8,114.0 623.6,120.2 617.4,114.0"/></g>
<text class="lt" x="643.2" y="118.6">E-HO</text>
<path class="ll" d="M608.5 130.6H617.0M630.2 130.6H638.7"/>
<g class="sy"><polygon points="616.7,130.6 627.1,124.6 627.1,136.5"/></g>
<text class="lt" x="643.2" y="135.2">F-HO</text>
<path class="ll" d="M608.5 147.1H617.0M630.2 147.1H638.7"/>
<g class="sy"><polygon points="630.5,147.1 620.1,141.1 620.1,153.1"/></g>
<text class="lt" x="643.2" y="151.7">G-HO</text>
<path class="ll" d="M608.5 163.6H618.1M629.1 163.6H638.7"/>
<g class="sy"><polygon points="623.6,158.1 628.4,160.9 628.4,166.4 623.6,169.1 618.8,166.4 618.8,160.9"/></g>
<text class="lt" x="643.2" y="168.2">H-HO</text>
<path class="ll" d="M608.5 180.1H617.8M629.4 180.1H638.7"/>
<g class="sy"><polygon points="623.6,174.7 625.0,178.7 629.1,178.7 625.8,181.3 627.0,185.2 623.6,182.9 620.2,185.2 621.4,181.3 618.1,178.7 622.2,178.7"/></g>
<text class="lt" x="643.2" y="184.7">I-HO</text>
<path class="ll" d="M608.5 196.7H617.0M630.2 196.7H638.7"/>
<g class="sy"><polygon points="623.6,191.0 629.5,195.3 627.2,202.2 620.0,202.2 617.7,195.3"/></g>
<text class="lt" x="643.2" y="201.3">J-HO</text>
<path class="ll" d="M608.5 213.2H618.1M629.1 213.2H638.7"/>
<g class="sy"><circle cx="623.6" cy="213.2" r="5.0" fill="url(#sph)"/></g>
<text class="lt" x="643.2" y="217.8">K-HO</text>
<path class="ll" d="M608.5 229.7H617.6M629.6 229.7H638.7"/>
<g class="sy"><path d="M618.6 229.7H628.6M623.6 224.7V234.7" class="hs"/></g>
<text class="lt" x="643.2" y="234.3">L-HO</text>
<path class="ll" d="M608.5 246.3H617.6M629.6 246.3H638.7"/>
<g class="sy"><path d="M618.3 241.0L628.9 251.6M618.3 251.6L628.9 241.0" class="hs"/></g>
<text class="lt" x="643.2" y="250.9">M-HO</text>
<path class="ll" d="M608.5 262.8H617.6M629.6 262.8H638.7"/>
<g class="sy"><path d="M619.6 258.8L627.6 266.8M619.6 266.8L627.6 258.8M618.2 262.8H629.0M623.6 257.4V268.2" class="hs"/></g>
<text class="lt" x="643.2" y="267.4">N-HO</text>
<path class="ll" d="M608.5 279.3H617.6M629.6 279.3H638.7"/>
<g class="sy"><path d="M619.1 279.3H628.1" class="hs"/></g>
<text class="lt" x="643.2" y="283.9">O-HO</text>
<path class="ll" d="M608.5 295.9H617.6M629.6 295.9H638.7"/>
<g class="sy"><path d="M623.6 291.4V300.4" class="hs"/></g>
<text class="lt" x="643.2" y="300.5">P-HO</text>
<path class="ll" d="M608.5 312.4H618.6M628.6 312.4H638.7"/>
<g class="sy"><rect x="619.1" y="307.9" width="9.0" height="9.0"/></g>
<text class="lt" x="643.2" y="317.0">Raw</text>
</svg>
</body></html>
